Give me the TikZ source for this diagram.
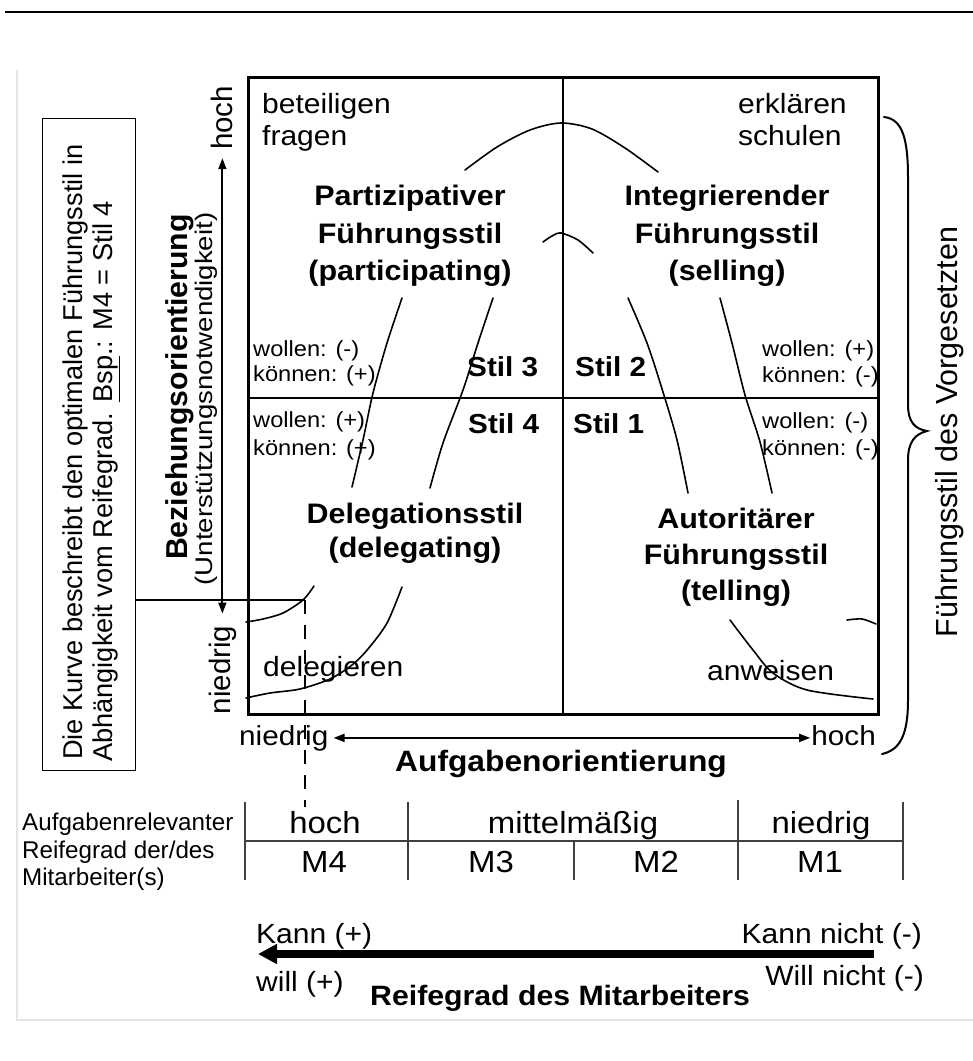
\documentclass[tikz,border=0pt]{standalone}
\usepackage{fontspec}
\setmainfont{Liberation Sans}
\newfontfamily\hfont{Liberation Sans}[FakeStretch=1.08]
\newfontfamily\subfont{Liberation Sans}[FakeStretch=1.15]
\usetikzlibrary{arrows.meta}
\newcommand\fsz[2]{\fontsize{#1}{#2}\selectfont}

\begin{document}
\begin{tikzpicture}[x=1pt,y=-1pt,
  every node/.style={inner sep=0pt},
  body/.style={font=\hfont\fsz{27.8}{32}},
  title/.style={font=\hfont\bfseries\fsz{28.2}{37}},
  stilnr/.style={font=\hfont\bfseries\fsz{27.5}{30}},
  cond/.style={font=\hfont\fsz{21.9}{26}},
  axislbl/.style={font=\hfont\fsz{27.5}{30}},
  vlabel/.style={rotate=90, font=\fsz{29.5}{32}},
  cell/.style={font=\hfont\fsz{30.5}{32}},
  rowlbl/.style={font=\fsz{24.2}{28}},
  bottomlbl/.style={font=\hfont\fsz{27.8}{30}},
  frame/.style={line width=2.6pt},
  divider/.style={line width=2pt},
  curve/.style={line width=1.6pt, line cap=round},
  tabline/.style={line width=1.3pt, black!75},
  axis/.style={line width=1.8pt, {Triangle[length=11pt,width=8pt]}-{Triangle[length=11pt,width=8pt]}},
]
\useasboundingbox (0,0) rectangle (973,1061);

% page rule and faint page edge
\draw[line width=2.4pt] (5,12) -- (973,12);
\draw[black!10, line width=1.5pt] (17,70) -- (17,1020) -- (973,1020);

% main field with quadrants
\node (field) [draw, frame, minimum width=630pt, minimum height=637pt, anchor=north west] at (247,76) {};
\coordinate (hmid) at (0,398);
\draw[divider] (field.north) -- (field.south);
\draw[divider] (field.west |- hmid) -- (field.east |- hmid);

% outer bell curve (visible pieces)
\draw[curve] plot[smooth] coordinates {(246,622) (263,619) (283,613) (303,600) (314,586)};
\draw[curve] plot[smooth] coordinates {(402,298) (387,343) (373,393) (363,440) (352,487)};
\draw[curve] plot[smooth] coordinates {(465,170) (497,147) (530,130) (561,123) (592,129) (625,148) (658,172)};
\draw[curve] plot[smooth] coordinates {(720,298) (732,343) (745,395) (760,442) (772,493)};
\draw[curve] plot[smooth] coordinates {(847,620) (862,619) (876,624)};
% inner bell curve (visible pieces)
\draw[curve] plot[smooth] coordinates {(246,698) (270,693) (300,689) (330,679) (352,665) (368,649) (387,623) (402,587)};
\draw[curve] plot[smooth] coordinates {(493,298) (478,343) (463,390) (443,443) (430,488)};
\draw[curve] plot[smooth] coordinates {(543,242) (552,236) (561,233) (578,240) (593,253)};
\draw[curve] plot[smooth] coordinates {(628,298) (647,343) (663,392) (677,440) (688,493)};
\draw[curve] plot[smooth] coordinates {(730,620) (753,650) (773,673) (807,690) (873,699)};

% quadrant texts
\node (beteiligen) [body, anchor=base west] at (262,113) {beteiligen};
\node (fragen)     [body, anchor=base west] at (262,145) {fragen};
\node (erklaeren)  [body, anchor=base west] at (738,113) {erklären};
\node (schulen)    [body, anchor=base west] at (738,145) {schulen};
\node (delegieren) [body, anchor=base west] at (263,676) {delegieren};
\node (anweisen)   [body, anchor=base west] at (707,680) {anweisen};

\node (part1) [title, anchor=base] at (410,205) {Partizipativer};
\node (part2) [title, anchor=base] at (410,243) {Führungsstil};
\node (part3) [title, anchor=base] at (410,280) {(participating)};
\node (int1)  [title, anchor=base] at (727,205) {Integrierender};
\node (int2)  [title, anchor=base] at (727,243) {Führungsstil};
\node (int3)  [title, anchor=base] at (727,280) {(selling)};
\node (del1)  [title, anchor=base] at (415,523) {Delegationsstil};
\node (del2)  [title, anchor=base] at (415,557) {(delegating)};
\node (aut1)  [title, anchor=base] at (736,528) {Autoritärer};
\node (aut2)  [title, anchor=base] at (736,564) {Führungsstil};
\node (aut3)  [title, anchor=base] at (736,600) {(telling)};

\node (stil3) [stilnr, anchor=base west] at (467,376) {Stil 3};
\node (stil4) [stilnr, anchor=base west] at (468,433) {Stil 4};
\node (stil2) [stilnr, anchor=base west] at (575,376) {Stil 2};
\node (stil1) [stilnr, anchor=base west] at (573,433) {Stil 1};

\node (w3) [cond, anchor=base west] at (253,356) {wollen: (-)};
\node (k3) [cond, anchor=base west] at (253,381) {können: (+)};
\node (w4) [cond, anchor=base west] at (253,427) {wollen: (+)};
\node (k4) [cond, anchor=base west] at (253,455) {können: (+)};
\node (w2) [cond, anchor=base west] at (762,356) {wollen: (+)};
\node (k2) [cond, anchor=base west] at (762,382) {können: (-)};
\node (w1) [cond, anchor=base west] at (762,428) {wollen: (-)};
\node (k1) [cond, anchor=base west] at (762,455) {können: (-)};

% horizontal axis
\node (xlow)  [axislbl, anchor=base west] at (239,745) {niedrig};
\node (xhigh) [axislbl, anchor=base east] at (876,745) {hoch};
\draw[axis, shorten <=5pt, shorten >=1pt] (xlow.east) -- (xlow.east -| xhigh.west);
\node (xname) [font=\hfont\bfseries\fsz{29.4}{32}, anchor=base] at (561,771) {Aufgabenorientierung};

% vertical axis
\node (yhigh) [vlabel, anchor=base] at (232,118) {hoch};
\node (ylow)  [vlabel, anchor=base] at (230,670) {niedrig};
\draw[axis, shorten <=12pt, shorten >=8pt] (ylow.east) -- (ylow.east |- yhigh.west);
\node (yname) [rotate=90, font=\bfseries\fsz{30.2}{32}, anchor=base] at (187,387) {Beziehungsorientierung};
\node (ysub)  [rotate=90, font=\subfont\fsz{24}{28}, anchor=base] at (212,399) {(Unterstützungsnotwendigkeit)};

% brace and style label on the right
\draw[line width=2pt, line cap=round]
  (884,117) .. controls (903,119) and (908,140) .. (908,178)
  -- (908,405) .. controls (908,422) and (915,429) .. (927,431)
  .. controls (915,434) and (908,442) .. (908,460)
  -- (908,700) .. controls (908,735) and (900,750) .. (882,754);
\node (fdv) [rotate=90, font=\fsz{30.5}{32}, anchor=base] at (957,432) {Führungsstil des Vorgesetzten};

% explanation box and its pointer
\node (note) [draw, line width=1.4pt, minimum width=93pt, minimum height=652pt, anchor=north west] at (42,118) {};
\node (note1) [rotate=90, font=\fsz{27.2}{30}, anchor=base west] at (82,760) {Die Kurve beschreibt den optimalen Führungsstil in};
\node (note2) [rotate=90, font=\fsz{27.2}{30}, anchor=base west] at (112,762) {Abhängigkeit vom Reifegrad. \underline{Bsp}.: M4 = Stil 4};
\coordinate (pick) at (305,600);
\coordinate (pickend) at (305,807);
\draw[line width=2pt] (note.east |- pick) -- (pick);
\draw[line width=1.8pt, dash pattern=on 14pt off 11pt] (pick) -- (pickend);

% maturity table
\draw[tabline] (245,802) -- (245,880);
\draw[tabline] (408,802) -- (408,880);
\draw[tabline] (574,841) -- (574,880);
\draw[tabline] (738,800) -- (738,880);
\draw[tabline] (903,802) -- (903,880);
\draw[tabline] (245,841) -- (903,841);
\node (lab1) [rowlbl, anchor=base west] at (22,830) {Aufgabenrelevanter};
\node (lab2) [rowlbl, anchor=base west] at (22,858) {Reifegrad der/des};
\node (lab3) [rowlbl, anchor=base west] at (22,885) {Mitarbeiter(s)};
\node (ch)  [cell, anchor=base] at (325,833) {hoch};
\node (cm)  [cell, anchor=base] at (573,833) {mittelmäßig};
\node (cn)  [cell, anchor=base] at (821,833) {niedrig};
\node (m4)  [cell, anchor=base] at (324,872) {M4};
\node (m3)  [cell, anchor=base] at (491,872) {M3};
\node (m2)  [cell, anchor=base] at (656,872) {M2};
\node (m1)  [cell, anchor=base] at (820,872) {M1};

% maturity arrow
\coordinate (rstart) at (874,954);
\coordinate (rend) at (258,954);
\draw[line width=8pt, -{Triangle[length=19pt,width=19pt]}] (rstart) -- (rend);
\node (kann)   [bottomlbl, anchor=base west] at (256,943) {Kann (+)};
\node (will)   [bottomlbl, anchor=base west] at (256,991) {will (+)};
\node (kannn)  [bottomlbl, anchor=base east] at (922,943) {Kann nicht (-)};
\node (willn)  [bottomlbl, anchor=base east] at (924,985) {Will nicht (-)};
\node (reife)  [font=\hfont\bfseries\fsz{28}{30}, anchor=base west] at (370,1005) {Reifegrad des Mitarbeiters};
\end{tikzpicture}
\end{document}
